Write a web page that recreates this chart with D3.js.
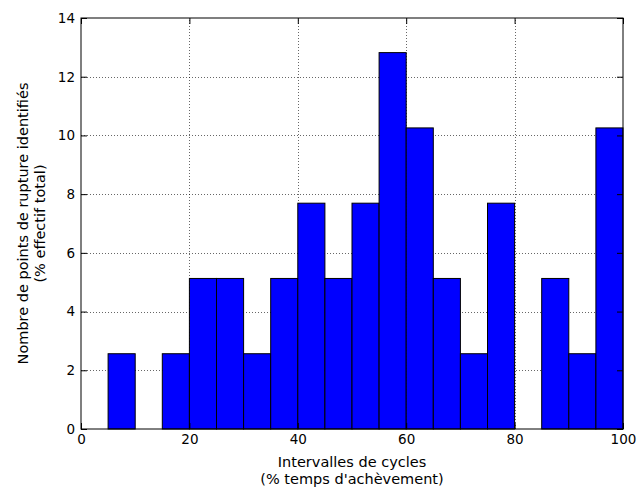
<!DOCTYPE html>
<html>
<head>
<meta charset="utf-8">
<script src="https://cdn.jsdelivr.net/npm/d3@7"></script>
<style>
  body { margin: 0; background: #fff; }
  text { font-family: "DejaVu Sans", sans-serif; fill: #000; }
</style>
</head>
<body>
<script>
"use strict";
// histogram bins (lower edge, % of cycle) and share of break points (%)
const binStarts = [0, 5, 10, 15, 20, 25, 30, 35, 40, 45, 50, 55, 60, 65, 70, 75, 80, 85, 90, 95];
const binWidth = 5;
const percents = [0, 2.564, 0, 2.564, 5.128, 5.128, 2.564, 5.128, 7.692, 5.128,
                  7.692, 12.821, 10.256, 5.128, 2.564, 7.692, 0, 5.128, 2.564, 10.256];
const xTicks = [0, 20, 40, 60, 80, 100];
const yTicks = [0, 2, 4, 6, 8, 10, 12, 14];

const size = { width: 637, height: 491 };
const margin = { left: 81, right: 14, top: 18, bottom: 62 };

const svg = d3.select("body").append("svg")
    .attr("width", size.width)
    .attr("height", size.height);

const x = d3.scaleLinear().domain([0, 100])
    .range([margin.left, size.width - margin.right]);
const y = d3.scaleLinear().domain([0, 14])
    .range([size.height - margin.bottom, margin.top]);

// grid
const grid = svg.append("g");
grid.selectAll("line.gx").data(xTicks.slice(1, -1)).enter().append("line")
    .attr("x1", d => Math.round(x(d)) + 0.5).attr("x2", d => Math.round(x(d)) + 0.5)
    .attr("y1", y(0)).attr("y2", y(14))
    .attr("stroke", "#000").attr("stroke-width", 0.6).attr("stroke-dasharray", "1,2");
grid.selectAll("line.gy").data(yTicks.slice(1, -1)).enter().append("line")
    .attr("y1", d => Math.round(y(d)) + 0.5).attr("y2", d => Math.round(y(d)) + 0.5)
    .attr("x1", x(0)).attr("x2", x(100))
    .attr("stroke", "#000").attr("stroke-width", 0.6).attr("stroke-dasharray", "1,2");

// bars
svg.append("g").selectAll("rect")
    .data(binStarts.map((s, i) => ({ s: s, v: percents[i] })).filter(d => d.v > 0))
    .enter().append("rect")
    .attr("x", d => x(d.s))
    .attr("width", d => x(d.s + binWidth) - x(d.s))
    .attr("y", d => y(d.v))
    .attr("height", d => y(0) - y(d.v))
    .attr("fill", "#0000ff")
    .attr("stroke", "#000")
    .attr("stroke-width", 1);

// axes (ticks inside, mirrored on all sides)
const tickLen = 6;
svg.append("g").attr("transform", `translate(0,${y(0)})`)
    .call(d3.axisBottom(x).tickValues(xTicks).tickSizeInner(-tickLen).tickSizeOuter(0).tickPadding(5))
    .call(g => g.select(".domain").remove());
svg.append("g").attr("transform", `translate(0,${y(14)})`)
    .call(d3.axisTop(x).tickValues(xTicks).tickSizeInner(-tickLen).tickSizeOuter(0).tickFormat(""))
    .call(g => g.select(".domain").remove());
svg.append("g").attr("transform", `translate(${x(0)},0)`)
    .call(d3.axisLeft(y).tickValues(yTicks).tickSizeInner(-tickLen).tickSizeOuter(0).tickPadding(6))
    .call(g => g.select(".domain").remove());
svg.append("g").attr("transform", `translate(${x(100)},0)`)
    .call(d3.axisRight(y).tickValues(yTicks).tickSizeInner(-tickLen).tickSizeOuter(0).tickFormat(""))
    .call(g => g.select(".domain").remove());

svg.selectAll(".tick text")
    .style("font-family", "DejaVu Sans")
    .style("font-size", "13.5px")
    .attr("fill", "#000");
svg.selectAll(".tick line").attr("stroke", "#000");

// frame
svg.append("rect")
    .attr("x", x(0)).attr("y", y(14))
    .attr("width", x(100) - x(0)).attr("height", y(0) - y(14))
    .attr("fill", "none").attr("stroke", "#000").attr("stroke-width", 1);

// labels
const xl = svg.append("text")
    .attr("text-anchor", "middle")
    .style("font-size", "14.5px");
xl.append("tspan").attr("x", (x(0) + x(100)) / 2).attr("y", 467).text("Intervalles de cycles");
xl.append("tspan").attr("x", (x(0) + x(100)) / 2).attr("y", 484).text("(% temps d'achèvement)");

const cy = (y(0) + y(14)) / 2;
const yl = svg.append("text")
    .attr("text-anchor", "middle")
    .attr("transform", `translate(0,${cy}) rotate(-90)`)
    .style("font-size", "14.5px");
yl.append("tspan").attr("x", 0).attr("y", 28).text("Nombre de points de rupture identifiés");
yl.append("tspan").attr("x", 0).attr("y", 45).text("(% effectif total)");
</script>
</body>
</html>
